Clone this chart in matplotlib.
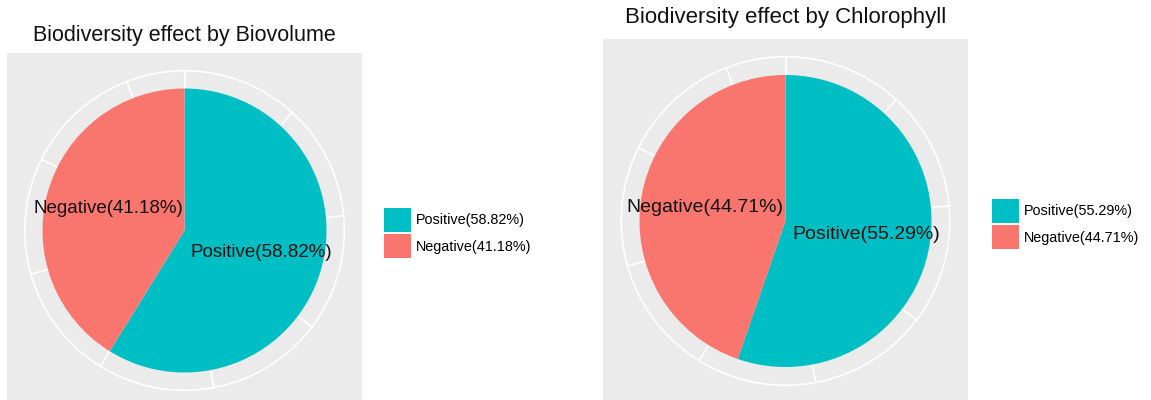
import matplotlib
matplotlib.use("Agg")
import matplotlib.pyplot as plt
from matplotlib.patches import Circle, Patch
import numpy as np

plt.rcParams['font.family'] = ['Liberation Sans', 'DejaVu Sans']

# data: counts behind the percentages (10/17, 7/17 and 47/85, 38/85)
categories = ['Positive', 'Negative']
biovolume_counts = [10, 7]
chlorophyll_counts = [47, 38]
titles = ['Biodiversity effect by Biovolume', 'Biodiversity effect by Chlorophyll']
break_steps = [2, 10]

colors = ['#00BFC4', '#F8766D']
panel_gray = '#EBEBEB'

W, H = 1151, 400
fig = plt.figure(figsize=(W / 100, H / 100), dpi=100)


def px_axes(cx, cy, half):
    # axes box in pixel coords (top-left origin) -> figure fraction
    return fig.add_axes([(cx - half) / W, (H - (cy + half)) / H, 2 * half / W, 2 * half / H])


def draw_pie(ax, counts, title, step, title_y, title_size, label_size):
    total = sum(counts)
    pct = [c / total * 100 for c in counts]
    labels = [f'{n}({p:.2f}%)' for n, p in zip(categories, pct)]

    ax.pie(counts, colors=colors, startangle=90, counterclock=False, radius=1,
           frame=True, wedgeprops=dict(linewidth=0, zorder=3))
    ax.set_facecolor(panel_gray)
    for s in ax.spines.values():
        s.set_visible(False)
    ax.set_xticks([])
    ax.set_yticks([])
    ax.set_xlim(-1.25, 1.25)
    ax.set_ylim(-1.25, 1.25)
    ax.set_aspect('equal')

    # theta grid lines + outer ring like ggplot coord_polar
    ring = 1.125
    for b in range(0, total, step):
        th = b / total * 2 * np.pi
        ax.plot([0, ring * np.sin(th)], [0, ring * np.cos(th)], color='white', lw=1.2, zorder=1)
    ax.add_patch(Circle((0, 0), ring, fill=False, ec='white', lw=1.1, zorder=1))

    # slice labels at middle angle
    cum = 0
    for c, lab in zip(counts, labels):
        mid = (cum + c / 2) / total * 2 * np.pi
        cum += c
        ax.text(0.56 * np.sin(mid), 0.56 * np.cos(mid), lab, ha='center', va='center',
                fontsize=label_size, color='#111111', zorder=5)

    fig.text(ax.get_position().x0 + ax.get_position().width / 2, 1 - title_y / H, title,
             ha='center', va='center', fontsize=title_size, color='#111111')

    handles = [Patch(facecolor=col, edgecolor='none') for col in colors]
    return handles, labels


ax1 = px_axes(184.5, 230.5, 177.5)
h1, l1 = draw_pie(ax1, biovolume_counts, titles[0], break_steps[0], 35, 15.5, 13.5)
ax2 = px_axes(785.5, 221, 182.5)
h2, l2 = draw_pie(ax2, chlorophyll_counts, titles[1], break_steps[1], 18, 16, 14)

leg_kw = dict(frameon=False, loc='center left', borderpad=0, borderaxespad=0,
              fontsize=10.4, handlelength=1.85, handleheight=2.25,
              labelspacing=0.1, handletextpad=0.35)
fig.legend(h1, l1, bbox_to_anchor=(384 / W, 1 - 233 / H), **leg_kw)
fig.legend(h2, l2, bbox_to_anchor=(992 / W, 1 - 224 / H), **leg_kw)

fig.savefig('out.png', dpi=100, facecolor='white')
